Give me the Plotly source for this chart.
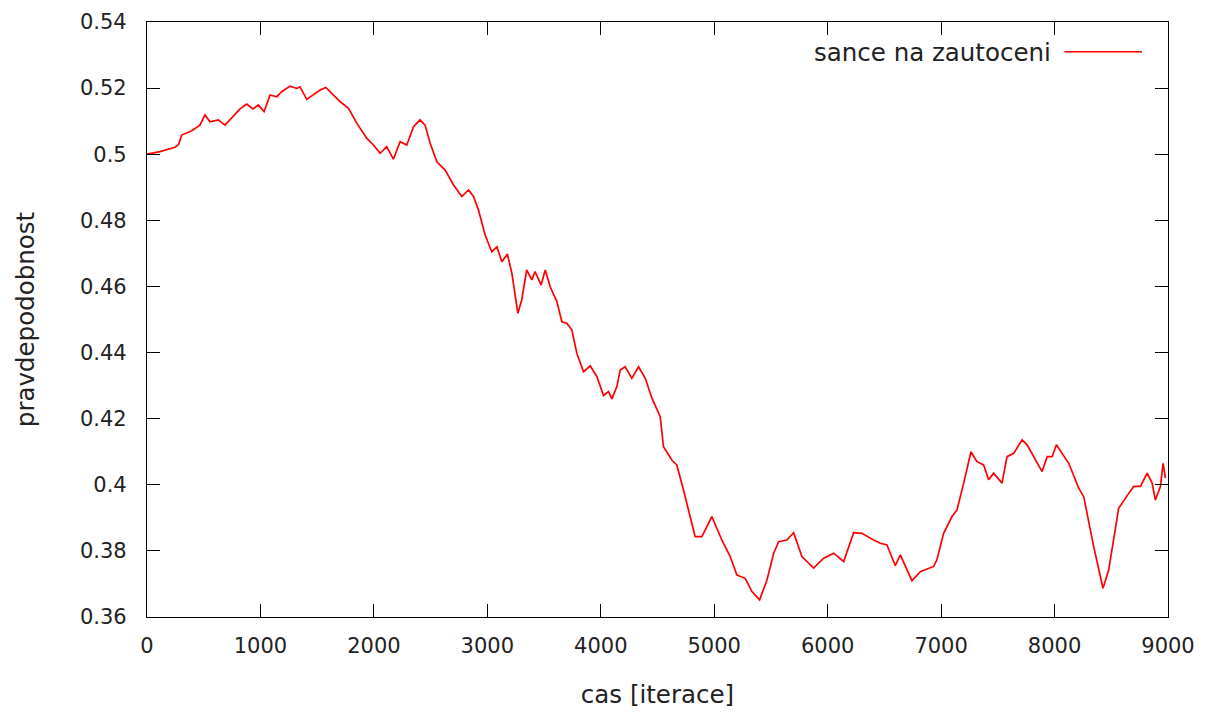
import plotly.graph_objects as go

# traced series: iteration (x) vs. probability (y)
iterace = [0, 115, 247, 280, 306, 394, 467, 511, 555, 629, 688, 732, 820, 879, 935, 981,
           1032, 1085, 1144, 1188, 1261, 1320, 1349, 1408, 1467, 1526, 1576, 1643, 1702,
           1776, 1849, 1938, 1996, 2055, 2113, 2172, 2231, 2290, 2349, 2407, 2451, 2496,
           2555, 2628, 2702, 2775, 2834, 2878, 2922, 2981, 3039, 3084, 3128, 3177, 3216,
           3269, 3303, 3347, 3392, 3421, 3474, 3510, 3554, 3613, 3657, 3701, 3745, 3789,
           3848, 3907, 3966, 4024, 4068, 4098, 4142, 4171, 4215, 4274, 4333, 4392, 4451,
           4524, 4553, 4626, 4670, 4729, 4832, 4891, 4979, 5067, 5141, 5200, 5273, 5332,
           5400, 5465, 5524, 5568, 5641, 5700, 5773, 5876, 5965, 6053, 6141, 6229, 6302,
           6405, 6464, 6523, 6596, 6640, 6743, 6817, 6934, 6963, 7022, 7096, 7140, 7199,
           7263, 7316, 7375, 7419, 7463, 7537, 7581, 7640, 7714, 7758, 7817, 7890, 7935,
           7979, 8016, 8066, 8125, 8213, 8257, 8345, 8427, 8477, 8565, 8654, 8698, 8757,
           8816, 8860, 8889, 8933, 8957, 8977]
sance = [0.5000, 0.5008, 0.5021, 0.5030, 0.5058, 0.5071, 0.5088, 0.5119, 0.5098, 0.5104,
         0.5088, 0.5104, 0.5137, 0.5152, 0.5137, 0.5149, 0.5129, 0.5179, 0.5174, 0.5189,
         0.5206, 0.5199, 0.5204, 0.5166, 0.5179, 0.5194, 0.5202, 0.5179, 0.5159, 0.5139,
         0.5094, 0.5048, 0.5028, 0.5003, 0.5023, 0.4985, 0.5038, 0.5028, 0.5083, 0.5104,
         0.5088, 0.5033, 0.4977, 0.4952, 0.4907, 0.4872, 0.4892, 0.4872, 0.4831, 0.4755,
         0.4705, 0.4720, 0.4675, 0.4698, 0.4640, 0.4519, 0.4559, 0.4650, 0.4620, 0.4645,
         0.4604, 0.4650, 0.4599, 0.4554, 0.4493, 0.4489, 0.4468, 0.4398, 0.4342, 0.4360,
         0.4327, 0.4270, 0.4282, 0.4260, 0.4297, 0.4347, 0.4357, 0.4322, 0.4357, 0.4322,
         0.4262, 0.4206, 0.4115, 0.4075, 0.4060, 0.3984, 0.3843, 0.3843, 0.3904, 0.3833,
         0.3783, 0.3727, 0.3717, 0.3677, 0.3652, 0.3712, 0.3793, 0.3828, 0.3833, 0.3855,
         0.3783, 0.3748, 0.3778, 0.3793, 0.3768, 0.3855, 0.3853, 0.3833, 0.3823, 0.3818,
         0.3755, 0.3788, 0.3710, 0.3737, 0.3753, 0.3773, 0.3853, 0.3904, 0.3924, 0.4005,
         0.4100, 0.4070, 0.4060, 0.4015, 0.4035, 0.4005, 0.4085, 0.4095, 0.4136, 0.4121,
         0.4085, 0.4040, 0.4085, 0.4085, 0.4121, 0.4095, 0.4065, 0.3990, 0.3964, 0.3813,
         0.3687, 0.3742, 0.3929, 0.3974, 0.3995, 0.3995, 0.4035, 0.4005, 0.3954, 0.3995,
         0.4065, 0.4020]

x_ticks = [0, 1000, 2000, 3000, 4000, 5000, 6000, 7000, 8000, 9000]
x_ticktext = ["0", "1000", "2000", "3000", "4000", "5000", "6000", "7000", "8000", "9000"]
y_ticks = [0.36, 0.38, 0.40, 0.42, 0.44, 0.46, 0.48, 0.50, 0.52, 0.54]
y_ticktext = ["0.36", "0.38", "0.4", "0.42", "0.44", "0.46", "0.48", "0.5", "0.52", "0.54"]

series_name = "sance na zautoceni"
x_title = "cas [iterace]"
y_title = "pravdepodobnost"

FONT = "DejaVu Sans"
TICK_FS = 21
TITLE_FS = 24.5
TXT = "#222222"

fig = go.Figure()
fig.add_trace(go.Scatter(x=iterace, y=sance, mode="lines", name=series_name,
                         line=dict(color="#ff0000", width=1.7), showlegend=False))

# gnuplot-style legend: text then line sample on the right
fig.add_annotation(x=0.887, y=0.948, xref="paper", yref="paper", text=series_name,
                   showarrow=False, xanchor="right", yanchor="middle",
                   font=dict(family=FONT, size=TITLE_FS, color=TXT))
fig.add_shape(type="line", xref="paper", yref="paper", x0=0.8985, x1=0.9745,
              y0=0.950, y1=0.950, line=dict(color="#ff0000", width=1.7))

axis_common = dict(showline=True, linecolor="black", linewidth=1.2, mirror="ticks",
                   ticks="inside", ticklen=13, tickcolor="black", tickwidth=1.2,
                   showgrid=False, zeroline=False,
                   tickfont=dict(family=FONT, size=TICK_FS, color=TXT))

# page body has an 8px margin, so the figure is sized and offset for it
fig.update_layout(
    width=1200, height=701,
    margin=dict(l=139, r=40, t=14, b=92, autoexpand=False),
    paper_bgcolor="white", plot_bgcolor="white",
    xaxis=dict(range=[0, 9000], tickvals=x_ticks, ticktext=x_ticktext,
               title=dict(text=x_title, font=dict(family=FONT, size=TITLE_FS, color=TXT),
                          standoff=34),
               ticklabelstandoff=10, **axis_common),
    yaxis=dict(range=[0.36, 0.54], tickvals=y_ticks, ticktext=y_ticktext,
               title=dict(text=y_title, font=dict(family=FONT, size=TITLE_FS, color=TXT),
                          standoff=38),
               ticklabelstandoff=15, **axis_common),
)

fig.write_html("out.html")
